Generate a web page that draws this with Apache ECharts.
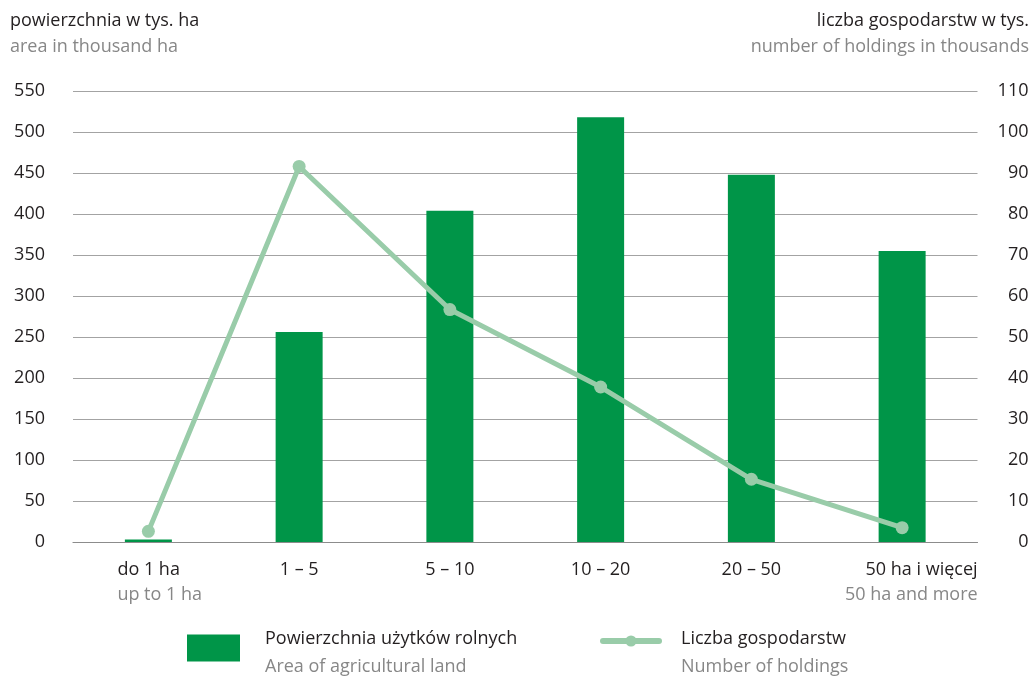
<!DOCTYPE html>
<html>
<head>
<meta charset="utf-8">
<script src="https://cdn.jsdelivr.net/npm/echarts@6/dist/echarts.min.js"></script>
<style>
html,body{margin:0;padding:0;background:#fff;}
#chart{width:1035px;height:678px;}
</style>
</head>
<body>
<div id="chart"></div>
<script>
const categoriesPL = ['do 1 ha', '1 – 5', '5 – 10', '10 – 20', '20 – 50', '50 ha i więcej'];
const categoriesEN = ['up to 1 ha', '', '', '', '', '50 ha and more'];
const areaValues = [3, 256, 404, 518, 448, 355];
const holdingsValues = [2.6, 91.6, 56.7, 37.8, 15.3, 3.5];
const leftTicks = [0, 550, 50];
const rightTicks = [0, 110, 10];

const FONT = 'Open Sans';
const DARK = '#231f20';
const GREY = '#878787';
const BAR = '#009548';
const LINE = '#99cca9';
const GRID = '#a3a3a3';

const chart = echarts.init(document.getElementById('chart'), null, {renderer: 'canvas'});

const lastIdx = categoriesPL.length - 1;

const option = {
  animation: false,
  backgroundColor: '#fff',
  textStyle: {fontFamily: FONT},
  grid: {left: 73, right: 1035 - 977.5, top: 91, bottom: 678 - 542, containLabel: false},
  graphic: [
    {
      type: 'text', left: 10, top: 12,
      style: {
        text: '{a|powierzchnia w tys. ha}\n{b|area in thousand ha}',
        rich: {
          a: {fontFamily: FONT, fontSize: 18, lineHeight: 26, fill: DARK, color: DARK},
          b: {fontFamily: FONT, fontSize: 18, lineHeight: 26, fill: GREY, color: GREY}
        }
      }
    },
    {
      type: 'text', right: 6, top: 12,
      style: {
        text: '{a|liczba gospodarstw w tys.}\n{b|number of holdings in thousands}',
        align: 'right',
        rich: {
          a: {fontFamily: FONT, fontSize: 18, lineHeight: 26, fill: DARK, color: DARK, align: 'right'},
          b: {fontFamily: FONT, fontSize: 18, lineHeight: 26, fill: GREY, color: GREY, align: 'right'}
        }
      }
    }
  ],
  legend: [
    {
      data: ['Powierzchnia użytków rolnych'],
      left: 187, top: 630, padding: 0,
      itemWidth: 53, itemHeight: 27,
      icon: 'rect',
      selectedMode: false,
      formatter: function (name) {
        return '{a|' + name + '}\n{b|Area of agricultural land}';
      },
      textStyle: {
        padding: [10, 0, 0, 20],
        rich: {
          a: {fontFamily: FONT, fontSize: 18, lineHeight: 28, color: DARK},
          b: {fontFamily: FONT, fontSize: 18, lineHeight: 28, color: GREY}
        }
      }
    },
    {
      data: ['Liczba gospodarstw'],
      left: 600, top: 630, padding: 0,
      itemWidth: 56, itemHeight: 14,
      selectedMode: false,
      lineStyle: {width: 6, cap: 'round'},
      formatter: function (name) {
        return '{a|' + name + '}\n{b|Number of holdings}';
      },
      textStyle: {
        padding: [24, 0, 0, 17],
        rich: {
          a: {fontFamily: FONT, fontSize: 18, lineHeight: 28, color: DARK},
          b: {fontFamily: FONT, fontSize: 18, lineHeight: 28, color: GREY}
        }
      }
    }
  ],
  xAxis: {
    type: 'category',
    data: categoriesPL,
    boundaryGap: true,
    axisLine: {show: true, lineStyle: {color: '#8c8c8c', width: 1.2}},
    axisTick: {show: false},
    axisLabel: {
      margin: 15,
      interval: 0,
      formatter: function (val, idx) {
        if (idx === 0) return '{f1|' + val + '}\n{f2|' + categoriesEN[idx] + '}';
        if (idx === lastIdx) return '{l1|' + val + '}\n{l2|' + categoriesEN[idx] + '}';
        return '{m|' + val + '}';
      },
      rich: {
        f1: {fontFamily: FONT, fontSize: 18, lineHeight: 25, color: DARK, width: 100, align: 'left', padding: [0, 0, 0, 38]},
        f2: {fontFamily: FONT, fontSize: 18, lineHeight: 25, color: GREY, width: 100, align: 'left', padding: [0, 0, 0, 38]},
        l1: {fontFamily: FONT, fontSize: 18, lineHeight: 25, color: DARK, width: 145, align: 'right', padding: [0, 0, 0, 6]},
        l2: {fontFamily: FONT, fontSize: 18, lineHeight: 25, color: GREY, width: 145, align: 'right', padding: [0, 0, 0, 6]},
        m: {fontFamily: FONT, fontSize: 18, lineHeight: 25, color: DARK}
      }
    }
  },
  yAxis: [
    {
      type: 'value',
      min: leftTicks[0], max: leftTicks[1], interval: leftTicks[2],
      axisLine: {show: false},
      axisTick: {show: false},
      splitLine: {show: true, lineStyle: {color: GRID, width: 1.2}},
      axisLabel: {fontFamily: FONT, fontSize: 18, color: DARK, margin: 28, align: 'right'}
    },
    {
      type: 'value',
      min: rightTicks[0], max: rightTicks[1], interval: rightTicks[2],
      position: 'right',
      axisLine: {show: false},
      axisTick: {show: false},
      splitLine: {show: false},
      axisLabel: {fontFamily: FONT, fontSize: 18, color: DARK, margin: 51, align: 'right'}
    }
  ],
  series: [
    {
      name: 'Powierzchnia użytków rolnych',
      type: 'bar',
      yAxisIndex: 0,
      data: areaValues,
      barWidth: 47,
      itemStyle: {color: BAR},
      z: 2
    },
    {
      name: 'Liczba gospodarstw',
      type: 'line',
      yAxisIndex: 1,
      data: holdingsValues,
      symbol: 'circle',
      symbolSize: 13,
      showAllSymbol: true,
      lineStyle: {color: LINE, width: 5},
      itemStyle: {color: LINE},
      z: 3
    }
  ]
};

chart.setOption(option);
</script>
</body>
</html>
